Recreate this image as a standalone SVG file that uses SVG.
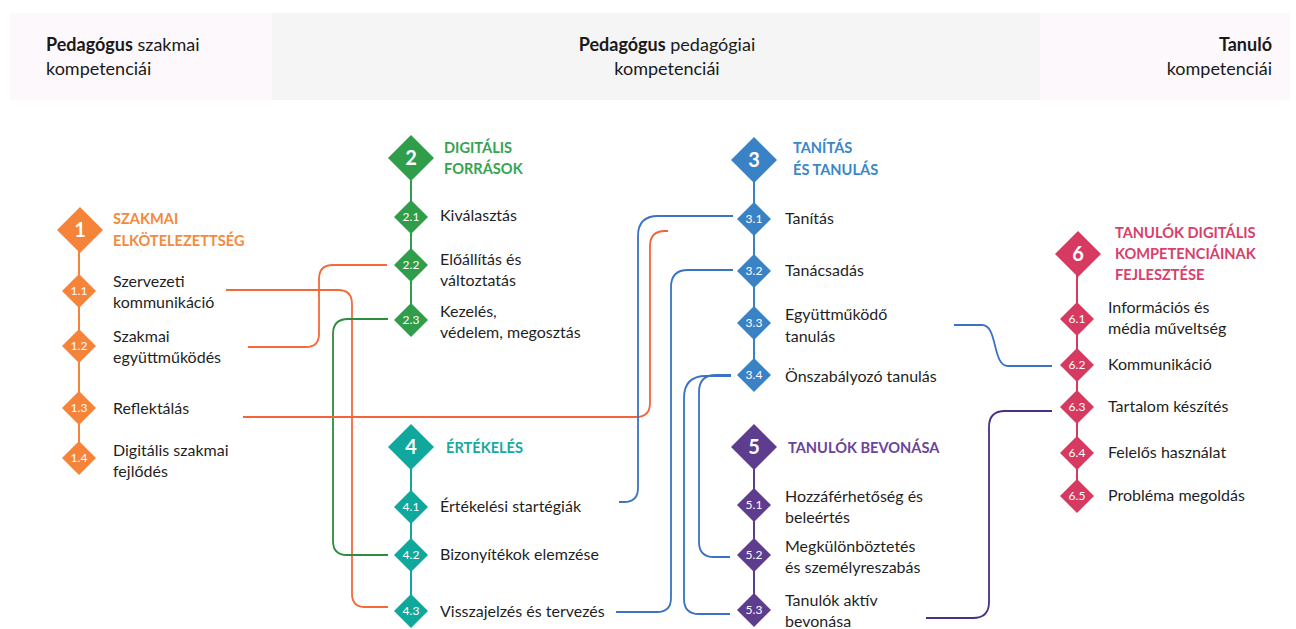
<svg xmlns="http://www.w3.org/2000/svg" width="1296" height="629" viewBox="0 0 1296 629">
<defs>
<style>
text{font-family:Lato,"Liberation Sans",sans-serif}
.hd{font-size:18px;fill:#1a1a1a}
.b{font-weight:bold}
.lbl{font-size:16px;fill:#1f1f1f}
.ttl{font-size:14.6px;font-weight:bold}
.big{font-size:20px;font-weight:bold;fill:#fff;text-anchor:middle}
.sm{font-size:12px;fill:#fff;text-anchor:middle}
.spine{stroke-width:2;fill:none}
.con{fill:none;stroke-width:1.8}
.c1{fill:#f5843a}.s1{stroke:#f5843a}.t1{fill:#f5893c}
.c2{fill:#2f9d4a}.s2{stroke:#2f9d4a}.t2{fill:#35a452}
.c3{fill:#3a82c6}.s3{stroke:#3a82c6}.t3{fill:#3a87c8}
.c4{fill:#10a89c}.s4{stroke:#10a89c}.t4{fill:#19a9a0}
.c5{fill:#5e3c8e}.s5{stroke:#5e3c8e}.t5{fill:#6a4499}
.c6{fill:#d63a60}.s6{stroke:#d63a60}.t6{fill:#d8406a}
</style>
<path id="bd" d="M0,-23 L23,0 L0,23 L-23,0 Z"/>
<path id="sd" d="M0,-17 L17,0 L0,17 L-17,0 Z"/>
</defs>

<g id="header">
<rect x="10" y="13" width="262" height="87" fill="#fdf8fc"/>
<rect x="272" y="13" width="768" height="87" fill="#f5f5f5"/>
<rect x="1040" y="13" width="250" height="87" fill="#fdf8fc"/>
<text class="hd" x="46" y="51"><tspan class="b">Pedagógus</tspan> szakmai</text>
<text class="hd" x="46" y="75">kompetenciái</text>
<text class="hd" x="667" y="51" text-anchor="middle"><tspan class="b">Pedagógus</tspan> pedagógiai</text>
<text class="hd" x="667" y="75" text-anchor="middle">kompetenciái</text>
<text class="hd b" x="1272" y="51" text-anchor="end">Tanuló</text>
<text class="hd" x="1272" y="75" text-anchor="end">kompetenciái</text>
</g>

<g id="connectors">
<path class="con" stroke="#f4693a" d="M226,290 H338 Q352,290 352,304 V594 Q352,607 365,607 H388"/>
<path class="con" stroke="#f4693a" d="M248,347 H306 Q319,347 319,334 V279 Q319,265 333,265 H387"/>
<path class="con" stroke="#2e8c3e" d="M388,319 H348 Q333,319 333,334 V541 Q333,555 347,555 H388"/>
<path class="con" stroke="#f4633a" d="M243,417 H636 Q650,417 650,403 V246 Q650,231 665,231 H668"/>
<path class="con" stroke="#3a72c4" d="M733,216 H658 Q638,216 638,236 V488 Q638,502 624,502 H619"/>
<path class="con" stroke="#3a72c4" d="M733,270 H688 Q671,270 671,287 V598 Q671,612 657,612 H616"/>
<path class="con" stroke="#3a72c4" d="M731,375 H716 Q699,375 699,392 V542 Q699,557 714,557 H730"/>
<path class="con" stroke="#3a72c4" d="M731,376 H706 Q684,376 684,398 V599 Q684,614 699,614 H730"/>
<path class="con" stroke="#3a72c4" d="M954,325 H982 C998,325 992,366 1008,366 H1052"/>
<path class="con" stroke="#4a2f86" d="M926,618 H973 Q989,618 989,602 V427 Q989,411 1005,411 H1052"/>
</g>

<g id="col1">
<line class="spine s1" x1="79" y1="250" x2="79" y2="458"/>
<use href="#bd" x="80" y="230" class="c1"/>
<text class="big" x="80" y="237">1</text>
<text class="ttl t1" x="113" y="224">SZAKMAI</text>
<text class="ttl t1" x="113" y="246">ELKÖTELEZETTSÉG</text>
<g id="n1-1"><use href="#sd" x="79" y="291" class="c1"/><text class="sm" x="79" y="295">1.1</text>
<text class="lbl" x="113" y="287">Szervezeti</text><text class="lbl" x="113" y="308">kommunikáció</text></g>
<g id="n1-2"><use href="#sd" x="79" y="346" class="c1"/><text class="sm" x="79" y="350">1.2</text>
<text class="lbl" x="113" y="342">Szakmai</text><text class="lbl" x="113" y="363">együttműködés</text></g>
<g id="n1-3"><use href="#sd" x="79" y="408" class="c1"/><text class="sm" x="79" y="412">1.3</text>
<text class="lbl" x="113" y="414">Reflektálás</text></g>
<g id="n1-4"><use href="#sd" x="79" y="458" class="c1"/><text class="sm" x="79" y="462">1.4</text>
<text class="lbl" x="113" y="456">Digitális szakmai</text><text class="lbl" x="113" y="477">fejlődés</text></g>
</g>

<g id="col2">
<line class="spine s2" x1="411" y1="170" x2="411" y2="320"/>
<use href="#bd" x="411" y="158" class="c2"/>
<text class="big" x="411" y="165">2</text>
<text class="ttl t2" x="444" y="153">DIGITÁLIS</text>
<text class="ttl t2" x="444" y="174">FORRÁSOK</text>
<g id="n2-1"><use href="#sd" x="411" y="217" class="c2"/><text class="sm" x="411" y="221">2.1</text>
<text class="lbl" x="440" y="221">Kiválasztás</text></g>
<g id="n2-2"><use href="#sd" x="411" y="265" class="c2"/><text class="sm" x="411" y="269">2.2</text>
<text class="lbl" x="440" y="265">Előállítás és</text><text class="lbl" x="440" y="286">változtatás</text></g>
<g id="n2-3"><use href="#sd" x="411" y="320" class="c2"/><text class="sm" x="411" y="324">2.3</text>
<text class="lbl" x="440" y="317">Kezelés,</text><text class="lbl" x="440" y="338">védelem, megosztás</text></g>
</g>

<g id="col4">
<line class="spine s4" x1="411" y1="460" x2="411" y2="611"/>
<use href="#bd" x="411" y="447" class="c4"/>
<text class="big" x="411" y="454">4</text>
<text class="ttl t4" x="446" y="453">ÉRTÉKELÉS</text>
<g id="n4-1"><use href="#sd" x="411" y="507" class="c4"/><text class="sm" x="411" y="511">4.1</text>
<text class="lbl" x="440" y="512">Értékelési startégiák</text></g>
<g id="n4-2"><use href="#sd" x="411" y="555" class="c4"/><text class="sm" x="411" y="559">4.2</text>
<text class="lbl" x="440" y="560">Bizonyítékok elemzése</text></g>
<g id="n4-3"><use href="#sd" x="411" y="611" class="c4"/><text class="sm" x="411" y="615">4.3</text>
<text class="lbl" x="440" y="617">Visszajelzés és tervezés</text></g>
</g>

<g id="col3">
<line class="spine s3" x1="754" y1="170" x2="754" y2="375"/>
<use href="#bd" x="754" y="160" class="c3"/>
<text class="big" x="754" y="167">3</text>
<text class="ttl t3" x="793" y="153">TANÍTÁS</text>
<text class="ttl t3" x="793" y="175">ÉS TANULÁS</text>
<g id="n3-1"><use href="#sd" x="754" y="219" class="c3"/><text class="sm" x="754" y="223">3.1</text>
<text class="lbl" x="785" y="224">Tanítás</text></g>
<g id="n3-2"><use href="#sd" x="754" y="271" class="c3"/><text class="sm" x="754" y="275">3.2</text>
<text class="lbl" x="785" y="276">Tanácsadás</text></g>
<g id="n3-3"><use href="#sd" x="754" y="323" class="c3"/><text class="sm" x="754" y="327">3.3</text>
<text class="lbl" x="785" y="320">Együttműködő</text><text class="lbl" x="785" y="342">tanulás</text></g>
<g id="n3-4"><use href="#sd" x="754" y="375" class="c3"/><text class="sm" x="754" y="379">3.4</text>
<text class="lbl" x="785" y="382">Önszabályozó tanulás</text></g>
</g>

<g id="col5">
<line class="spine s5" x1="754" y1="460" x2="754" y2="610"/>
<use href="#bd" x="754" y="447" class="c5"/>
<text class="big" x="754" y="454">5</text>
<text class="ttl t5" x="788" y="453">TANULÓK BEVONÁSA</text>
<g id="n5-1"><use href="#sd" x="754" y="505" class="c5"/><text class="sm" x="754" y="509">5.1</text>
<text class="lbl" x="785" y="502">Hozzáférhetőség és</text><text class="lbl" x="785" y="523">beleértés</text></g>
<g id="n5-2"><use href="#sd" x="754" y="555" class="c5"/><text class="sm" x="754" y="559">5.2</text>
<text class="lbl" x="785" y="552">Megkülönböztetés</text><text class="lbl" x="785" y="573">és személyreszabás</text></g>
<g id="n5-3"><use href="#sd" x="754" y="610" class="c5"/><text class="sm" x="754" y="614">5.3</text>
<text class="lbl" x="785" y="606">Tanulók aktív</text><text class="lbl" x="785" y="627">bevonása</text></g>
</g>

<g id="col6">
<line class="spine s6" x1="1077" y1="265" x2="1077" y2="496"/>
<use href="#bd" x="1078" y="254" class="c6"/>
<text class="big" x="1078" y="261">6</text>
<text class="ttl t6" x="1115" y="238">TANULÓK DIGITÁLIS</text>
<text class="ttl t6" x="1115" y="259">KOMPETENCIÁINAK</text>
<text class="ttl t6" x="1115" y="280">FEJLESZTÉSE</text>
<g id="n6-1"><use href="#sd" x="1077" y="319" class="c6"/><text class="sm" x="1077" y="323">6.1</text>
<text class="lbl" x="1108" y="313">Információs és</text><text class="lbl" x="1108" y="334">média műveltség</text></g>
<g id="n6-2"><use href="#sd" x="1077" y="365" class="c6"/><text class="sm" x="1077" y="369">6.2</text>
<text class="lbl" x="1108" y="370">Kommunikáció</text></g>
<g id="n6-3"><use href="#sd" x="1077" y="407" class="c6"/><text class="sm" x="1077" y="411">6.3</text>
<text class="lbl" x="1108" y="412">Tartalom készítés</text></g>
<g id="n6-4"><use href="#sd" x="1077" y="453" class="c6"/><text class="sm" x="1077" y="457">6.4</text>
<text class="lbl" x="1108" y="458">Felelős használat</text></g>
<g id="n6-5"><use href="#sd" x="1077" y="496" class="c6"/><text class="sm" x="1077" y="500">6.5</text>
<text class="lbl" x="1108" y="501">Probléma megoldás</text></g>
</g>
</svg>
